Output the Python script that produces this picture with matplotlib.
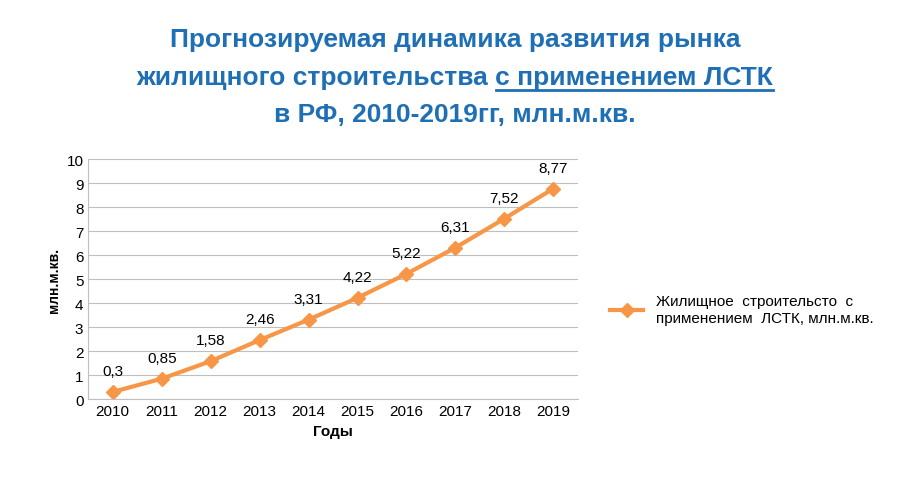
import matplotlib
matplotlib.use("Agg")
import matplotlib.pyplot as plt
from matplotlib.lines import Line2D

years = [2010, 2011, 2012, 2013, 2014, 2015, 2016, 2017, 2018, 2019]
values = [0.3, 0.85, 1.58, 2.46, 3.31, 4.22, 5.22, 6.31, 7.52, 8.77]
labels = ["0,3", "0,85", "1,58", "2,46", "3,31", "4,22", "5,22", "6,31", "7,52", "8,77"]
series_name = "Жилищное  строительсто  с\nприменением  ЛСТК, млн.м.кв."

plt.rcParams["font.family"] = "Liberation Sans"
fig = plt.figure(figsize=(9.1, 4.85), dpi=100)
ax = fig.add_axes([0.097, 0.175, 0.538, 0.495])
orange = "#F79646"
ax.plot(range(len(years)), values, color=orange, lw=3, marker="D", ms=7, label=series_name)
for i, (v, t) in enumerate(zip(values, labels)):
    ax.annotate(t, (i, v), xytext=(0, 10), textcoords="offset points", ha="center", va="bottom", fontsize=11)
ax.set_xlim(-0.5, len(years) - 0.5)
ax.set_ylim(0, 10)
ax.set_yticks(range(0, 11))
ax.set_xticks(range(len(years)))
ax.set_xticklabels([str(y) for y in years])
ax.tick_params(labelsize=11, length=0)
ax.grid(axis="y", color="#BFBFBF", lw=0.8)
ax.set_axisbelow(True)
for s in ["top", "right"]:
    ax.spines[s].set_visible(False)
ax.spines["left"].set_color("#BFBFBF")
ax.spines["bottom"].set_color("#BFBFBF")
ax.set_xlabel("Годы", fontsize=11, fontweight="bold")
ax.set_ylabel("млн.м.кв.", fontsize=10, fontweight="bold")
ax.legend(handles=[Line2D([], [], color=orange, lw=3, marker="D", ms=7)], labels=[series_name],
          loc="center left", bbox_to_anchor=(0.655, 0.36), bbox_transform=fig.transFigure,
          frameon=False, fontsize=11, handlelength=2.2)

blue = "#1F6FB4"
kw = dict(ha="center", va="center", fontsize=19, fontweight="bold", color=blue)
fig.text(0.5, 1 - 40 / 485, "Прогнозируемая динамика развития рынка", **kw)
t2 = fig.text(0.5, 1 - 78 / 485, "жилищного строительства с применением ЛСТК", **kw)
fig.text(0.5, 1 - 115 / 485, "в РФ, 2010-2019гг, млн.м.кв.", **kw)
fig.canvas.draw()
r = fig.canvas.get_renderer()
bb = t2.get_window_extent(r)
tmp = fig.text(0, 0, "жилищного строительства ", fontsize=19, fontweight="bold")
pw = tmp.get_window_extent(r).width
tmp.remove()
x0 = (bb.x0 + pw) / fig.bbox.width
x1 = bb.x1 / fig.bbox.width
yl = (bb.y0 - 1) / fig.bbox.height
fig.add_artist(Line2D([x0, x1], [yl, yl], color=blue, lw=2, transform=fig.transFigure))
fig.savefig("out.png", dpi=100)
